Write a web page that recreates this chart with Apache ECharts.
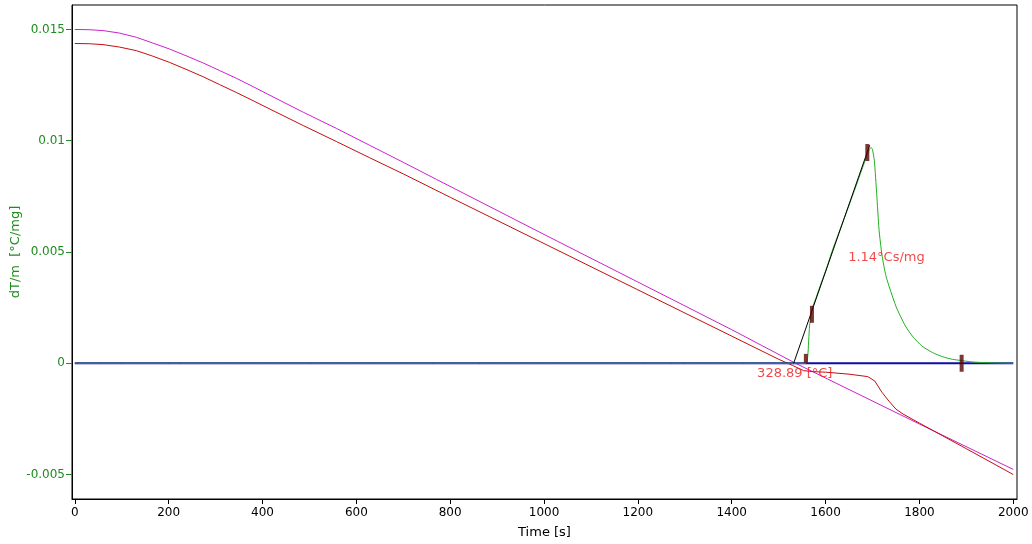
<!DOCTYPE html>
<html><head><meta charset="utf-8">
<script src="https://cdn.jsdelivr.net/npm/echarts@6/dist/echarts.min.js"></script>
<style>html,body{margin:0;padding:0;background:#fff}#c{width:1032px;height:544px}</style>
</head><body><div id="c"></div>
<script>
// Data (time [s], dT/m [°C/mg])
const magentaT = [0,30,60,95,131,165,202,237,273,308,344,380,416,487,558,628,700,771,1000,1200,1400,1536,1650,1800,2000];
const magentaV = [0.0150,0.01499,0.01495,0.01484,0.01465,0.01440,0.01412,0.01382,0.01350,0.01316,0.01281,0.01243,0.01204,0.01128,0.01055,0.00980,0.00903,0.00826,0.00579,0.00365,0.00151,0.0,-0.00118,-0.00273,-0.00477];
const redT = [0,30,60,95,131,165,202,237,273,308,344,380,416,487,558,628,700,800,1000,1200,1400,1500,1530,1553,1575,1600,1650,1690,1705,1720,1735,1750,1765,1800,1900,2000];
const redV = [0.01437,0.01436,0.01432,0.01421,0.01405,0.01381,0.01352,0.01321,0.01288,0.01253,0.01217,0.01180,0.01142,0.01068,0.00996,0.00924,0.00851,0.00746,0.00538,0.0033,0.00122,0.00018,-0.0001,-0.00033,-0.00038,-0.0004,-0.00049,-0.0006,-0.0008,-0.0013,-0.0017,-0.00206,-0.00228,-0.00269,-0.00384,-0.0050];
const greenT = [0,1558,1562,1566,1572,1579,1594,1601,1615,1629,1657,1679,1693,1697,1700,1704,1709,1714,1720,1729,1750,1770,1785,1805,1828,1850,1870,1913,1950,2000];
const greenV = [0,0,0.0003,0.0017,0.0025,0.0029,0.0038,0.0042,0.0051,0.0059,0.0075,0.0088,0.0096,0.0097,0.0096,0.0091,0.0076,0.0060,0.0049,0.0039,0.00256,0.00168,0.00122,0.00078,0.00048,0.00029,0.00018,0.00006,0.00002,0];
const baselineT = [0,2000];
const baselineV = [0,0];
const tangentT = [1532,1694];
const tangentV = [0,0.0098];
const markerT = [1558,1571,1689,1890];
const markerV = [0.00022,0.0022,0.00947,0];
const xTicks = [0,200,400,600,800,1000,1200,1400,1600,1800,2000];
const yTicks = [-0.005,0,0.005,0.01,0.015];
const yTickLabels = ['-0.005','0','0.005','0.01','0.015'];
const notes = [{t:1648,v:0.00476,text:'1.14°Cs/mg'},{t:1454,v:-0.00048,text:'328.89 [°C]'}];

const zip = (a,b)=>a.map((x,i)=>[x,b[i]]);
const font = 'DejaVu Sans';
const chart = echarts.init(document.getElementById('c'));
chart.setOption({
  animation:false,
  backgroundColor:'#fff',
  grid:{left:72,top:5,right:15,bottom:45,show:true,borderColor:'#000',borderWidth:1,containLabel:false,outerBoundsMode:'none'},
  xAxis:{type:'value',min:-6,max:2008,
    name:'Time [s]',nameLocation:'middle',nameGap:27,nameMoveOverlap:false,
    nameTextStyle:{color:'#000',fontFamily:font,fontSize:13},
    axisLine:{show:true,onZero:false,lineStyle:{color:'#000',width:1}},
    axisTick:{show:true,customValues:xTicks,length:5,lineStyle:{color:'#000'}},
    axisLabel:{customValues:xTicks,color:'#000',fontFamily:font,fontSize:12,margin:8,formatter:(v)=>String(Math.round(v))},
    splitLine:{show:false}},
  yAxis:{type:'value',min:-0.0061,max:0.0161,
    name:'dT/m  [°C/mg]',nameLocation:'middle',nameGap:50,nameRotate:90,nameMoveOverlap:false,
    nameTextStyle:{color:'#1e8c1e',fontFamily:font,fontSize:13},
    axisLine:{show:true,onZero:false,lineStyle:{color:'#000',width:1}},
    axisTick:{show:true,customValues:yTicks,length:6,lineStyle:{color:'#1e8c1e'}},
    axisLabel:{customValues:yTicks,color:'#1e8c1e',fontFamily:font,fontSize:12,margin:7,
      formatter:(v)=>{const i=yTicks.findIndex(x=>Math.abs(x-v)<1e-9);return i>=0?yTickLabels[i]:'';}},
    splitLine:{show:false}},
  series:[
    {type:'line',data:zip(magentaT,magentaV),smooth:false,symbol:'none',lineStyle:{color:'#cc22cc',width:1},z:2},
    {type:'line',data:zip(redT,redV),smooth:false,symbol:'none',lineStyle:{color:'#c40f0f',width:1},z:2},
    {type:'line',data:zip(baselineT,baselineV),symbol:'none',lineStyle:{color:'#0c0ca8',width:2},z:3},
    {type:'line',data:zip(greenT,greenV),smooth:0.2,symbol:'none',lineStyle:{color:'#22b022',width:1},z:4},
    {type:'line',data:zip(tangentT,tangentV),symbol:'none',lineStyle:{color:'#000',width:1},z:5},
    {type:'scatter',data:zip(markerT,markerV).map((p,i)=>({value:p,symbolSize:i===0?[4,9]:[4,17]})),symbol:'rect',itemStyle:{color:'#5a0404'},z:6},
    {type:'scatter',data:notes.map(n=>({value:[n.t,n.v],label:{formatter:n.text}})),symbolSize:0.1,
      label:{show:true,position:'right',distance:0,color:'#ee1c1c',fontFamily:font,fontSize:13},itemStyle:{color:'transparent'},z:7}
  ]
});
</script></body></html>
